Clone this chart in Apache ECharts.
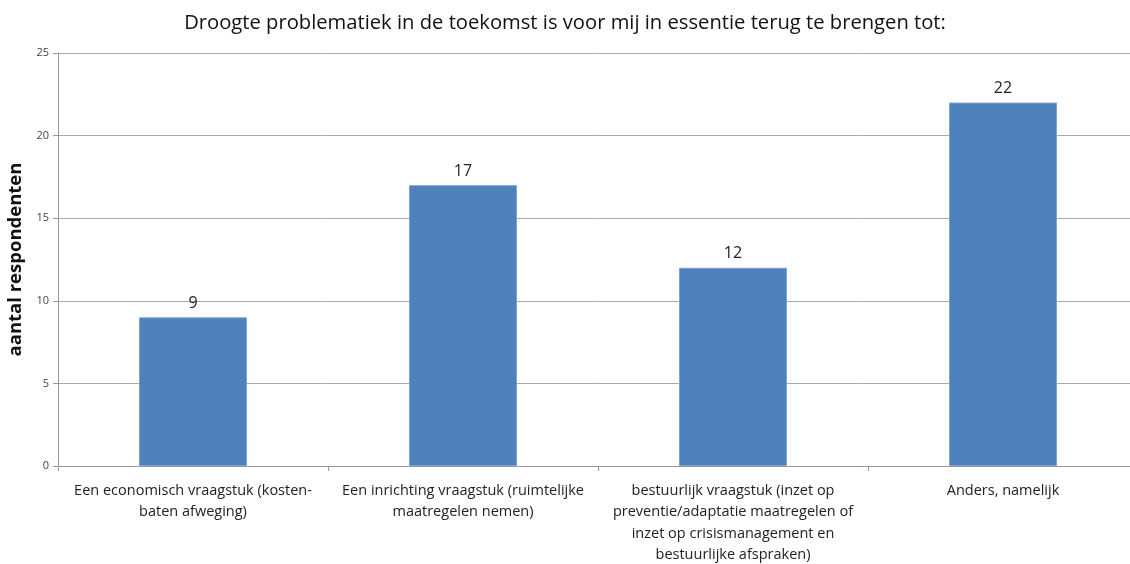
<!DOCTYPE html>
<html>
<head>
	<meta charset="utf-8">
	<title>Droogte problematiek</title>
	<script src="https://cdn.jsdelivr.net/npm/echarts@6/dist/echarts.min.js"></script>
	<style type="text/css">
		html, body { margin: 0; padding: 0; background-color: #fff; }
		#chartBox { width: 1130px; height: 564px; }
	</style>
</head>
<body>
<div id="chartBox"></div>

<script>
	// data
	var categories = [
		'Een economisch vraagstuk (kosten-\nbaten afweging)',
		'Een inrichting vraagstuk (ruimtelijke\nmaatregelen nemen)',
		'bestuurlijk vraagstuk (inzet op\npreventie/adaptatie maatregelen of\ninzet op crisismanagement en\nbestuurlijke afspraken)',
		'Anders, namelijk'
	];
	var respondents = [9, 17, 12, 22];
	var yTicks = [0, 5, 10, 15, 20, 25];

	var font = '"Open Sans", Lato, sans-serif';

	var chart = echarts.init(document.getElementById('chartBox'));
	var options = {
		animation: false,
		title: {
			text: 'Droogte problematiek in de toekomst is voor mij in essentie terug te brengen tot:',
			left: 'center',
			top: 8,
			textStyle: { fontFamily: font, fontSize: 20.2, fontWeight: 'normal', color: '#111' }
		},
		// grid runs slightly past the right edge, like the reference
		grid: { left: 58, width: 1080, top: 53, bottom: 98, outerBoundsMode: 'none', containLabel: false },
		xAxis: {
			type: 'category',
			data: categories,
			axisLine: { lineStyle: { color: '#999' } },
			axisTick: { show: true, length: 5, alignWithLabel: false, lineStyle: { color: '#999' } },
			axisLabel: {
				interval: 0,
				margin: 14,
				fontFamily: font,
				fontSize: 14.5,
				lineHeight: 21.5,
				color: '#222'
			}
		},
		yAxis: {
			type: 'value',
			min: yTicks[0],
			max: yTicks[yTicks.length - 1],
			interval: 5,
			name: 'aantal respondenten',
			nameLocation: 'middle',
			nameGap: 26,
			nameTextStyle: { fontFamily: font, fontSize: 18.5, fontWeight: 'bold', color: '#111' },
			axisLine: { show: true, lineStyle: { color: '#999' } },
			axisTick: { show: true, length: 5, lineStyle: { color: '#999' } },
			axisLabel: { fontFamily: font, fontSize: 11, color: '#444', margin: 9 },
			splitLine: { lineStyle: { color: '#aaa' } }
		},
		series: [{
			type: 'bar',
			data: respondents,
			barWidth: '40%',
			itemStyle: { color: '#4F81BD', borderColor: '#7fa3d1', borderWidth: 1 },
			label: {
				show: true,
				position: 'top',
				distance: 6,
				fontFamily: font,
				fontSize: 16,
				color: '#222'
			}
		}]
	};
	chart.setOption(options);
</script>
</body>
</html>
